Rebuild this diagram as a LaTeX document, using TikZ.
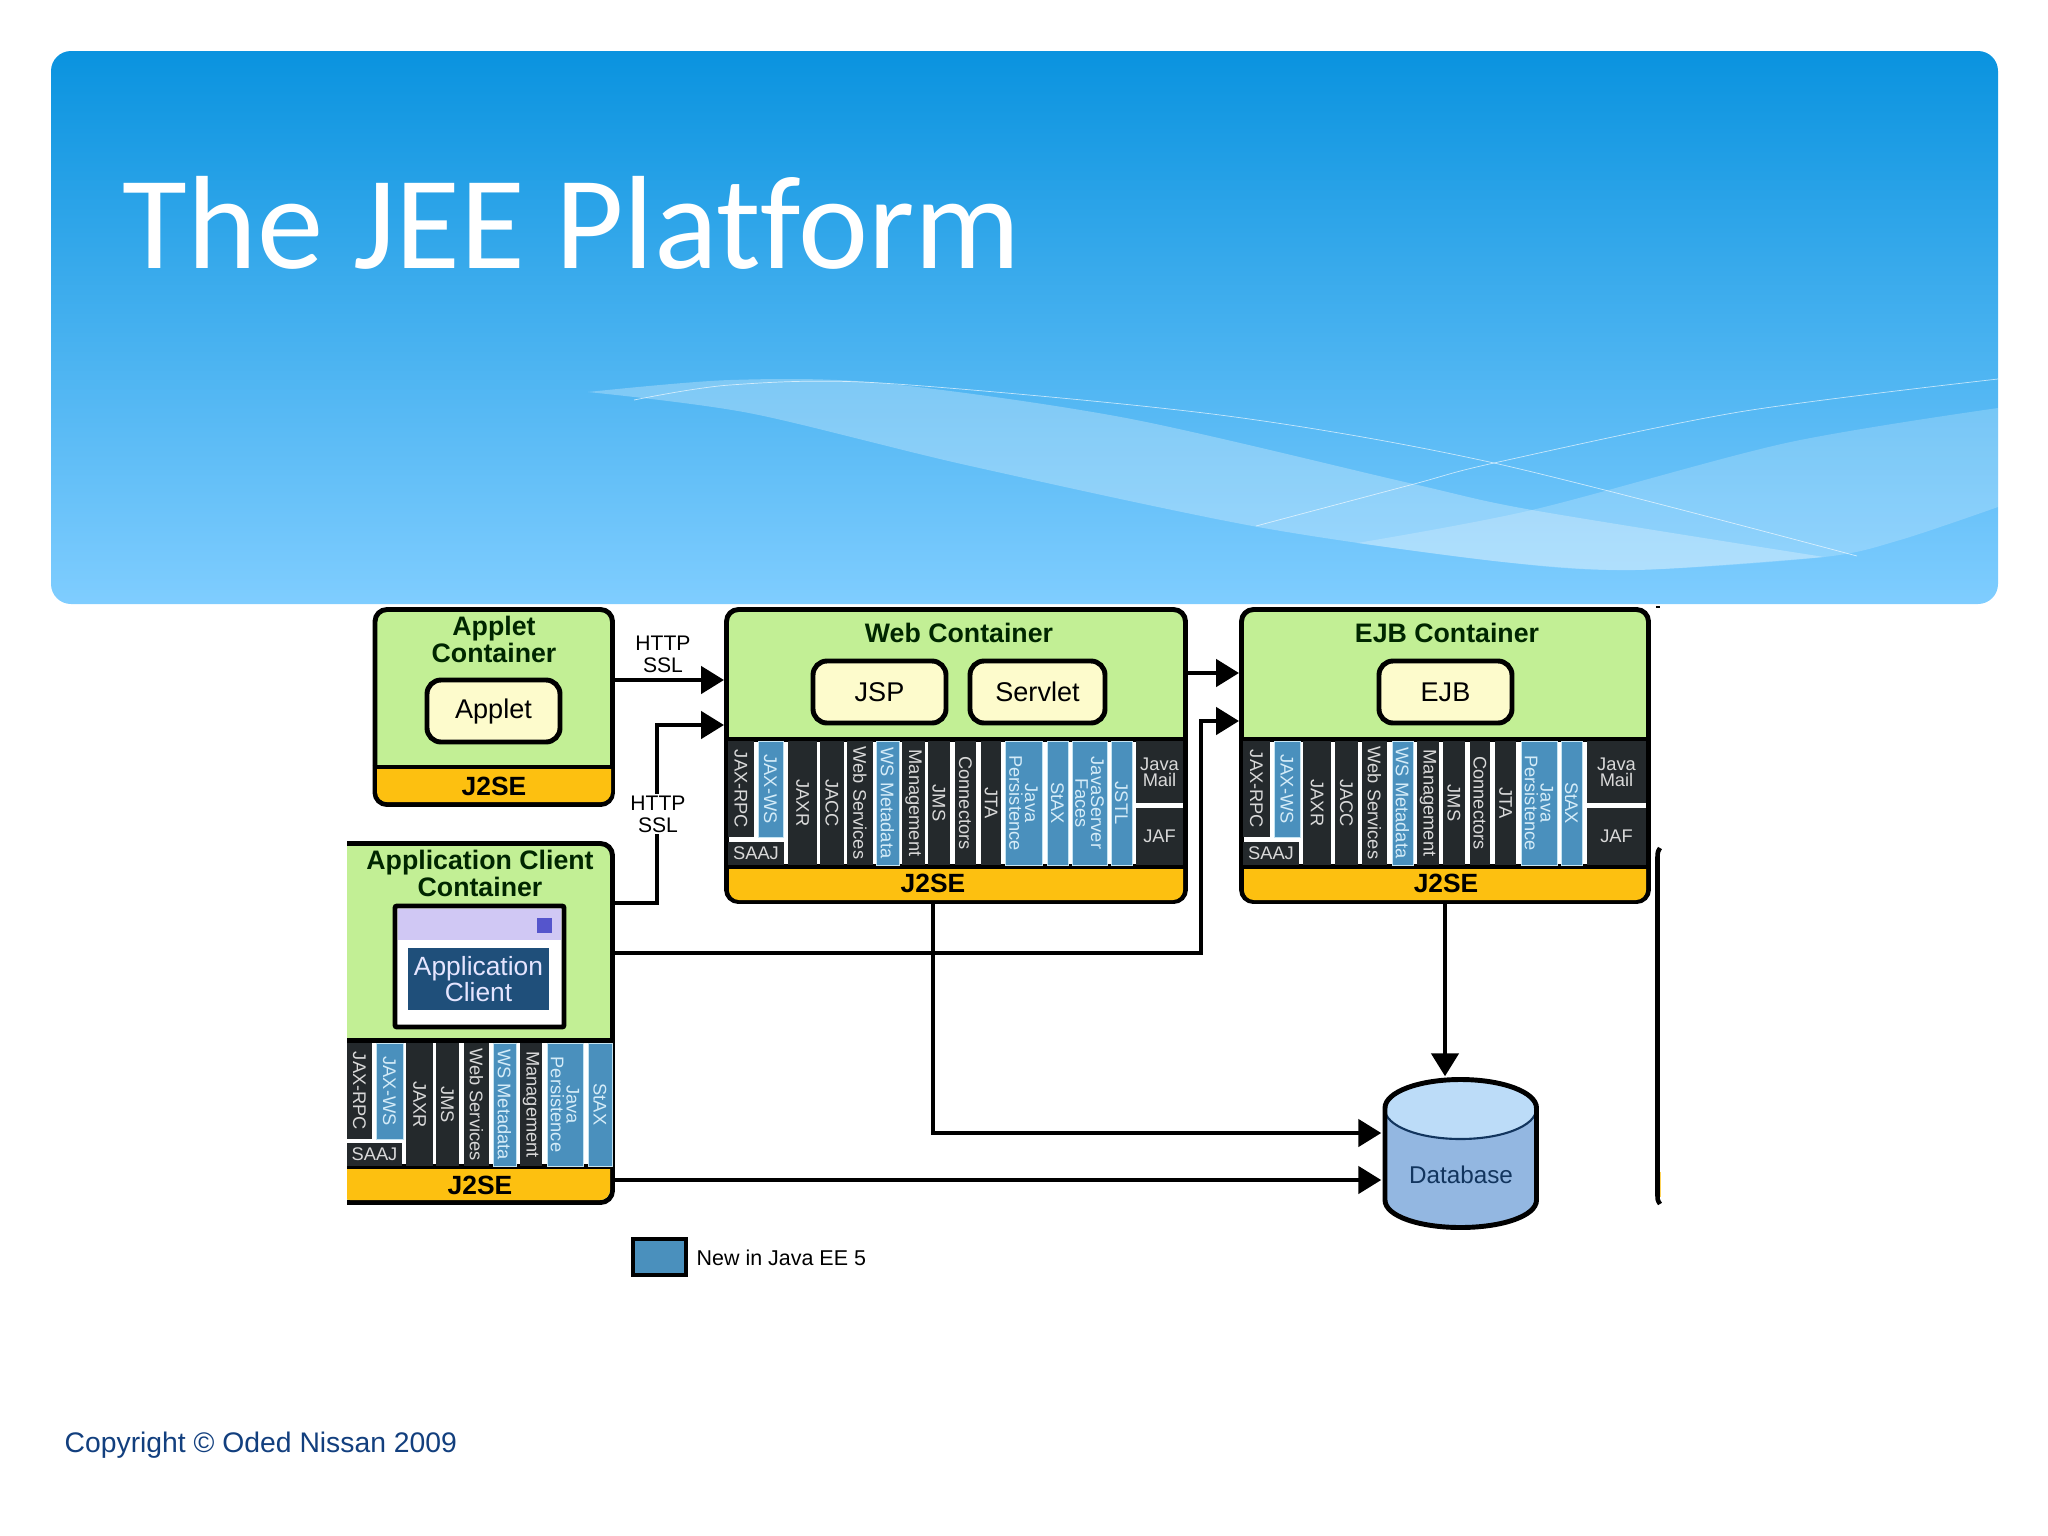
\documentclass[tikz,border=0pt]{standalone}
\usepackage{fontspec}
\setmainfont{Liberation Sans}
\newfontfamily\titlefont[Ligatures=NoCommon]{Carlito}
\usetikzlibrary{arrows.meta}
\definecolor{contgreen}{HTML}{C2EF95}
\definecolor{bandyellow}{HTML}{FDC010}
\definecolor{innercream}{HTML}{FDFBCC}
\definecolor{coldark}{HTML}{24292C}
\definecolor{colblue}{HTML}{4A90BD}
\definecolor{colline}{HTML}{C5E4F2}
\definecolor{coltextblue}{HTML}{D5ECF8}
\definecolor{barlilac}{HTML}{D0C8F4}
\definecolor{squareblue}{HTML}{5555CC}
\definecolor{clientblue}{HTML}{1F4F7A}
\definecolor{dbtop}{HTML}{BCDCF8}
\definecolor{dbbody}{HTML}{93B7E1}
\definecolor{dbtext}{HTML}{12355E}
\definecolor{copyblue}{HTML}{123F7E}
\definecolor{bannertop}{HTML}{0A93DF}
\definecolor{bannerbottom}{HTML}{7FCDFF}
\newlength\pxu
\setlength\pxu{0.01cm}
\newcommand{\boxnode}[7]{\node[#6,minimum width={(#3-#2)*\pxu},minimum height={(#5-#4)*\pxu}](#1) at ({(#2+#3)/2},{(#4+#5)/2}) {#7};}
\newcommand{\colnode}[7]{\node[#6,rotate=-90,minimum width={(#5-#4)*\pxu},minimum height={(#3-#2)*\pxu}](#1) at ({(#2+#3)/2},{(#4+#5)/2}) {#7};}
\newcommand{\bandfill}[3]{\fill[bandyellow] (#1,#3-35) -- (#2,#3-35) [rounded corners=0.1cm] -- (#2,#3) -- (#1,#3) [sharp corners] -- cycle;}
\newcommand{\dbpath}{(1385,1108) -- (1385,1200) .. controls (1385,1216) and (1419,1227.5) .. (1460.5,1227.5) .. controls (1502,1227.5) and (1536.5,1216) .. (1536.5,1200) -- (1536.5,1108) .. controls (1536.5,1092) and (1502,1079.5) .. (1460.5,1079.5) .. controls (1419,1079.5) and (1385,1092) .. (1385,1108) -- cycle}
\tikzset{
    frame/.style={line width=1.4pt,draw=black},
    container/.style={frame,fill=contgreen,rounded corners=0.12cm,inner sep=0pt},
    innerbox/.style={frame,fill=innercream,rounded corners=0.14cm,inner sep=0pt,font=\fontsize{7.7}{8}\selectfont},
    conttitle/.style={font=\bfseries\fontsize{7.6}{7.7}\selectfont,align=center,inner sep=0pt,text=black!85!green},
    bandtext/.style={font=\bfseries\fontsize{7.5}{8}\selectfont,inner sep=0pt},
    coltext/.style={inner sep=0pt,align=center,font=\fontsize{5.2}{4.5}\selectfont,text=white!85!black},
    darkcol/.style={coltext,fill=coldark},
    bluecol/.style={coltext,fill=colblue,draw=colline,line width=0.2pt,text=coltextblue},
    panelbox/.style={fill=white,inner sep=0pt},
    wire/.style={line width=1.3pt,-{Triangle[length=0.23cm,width=0.27cm]}},
    wireplain/.style={line width=1.3pt},
    protolabel/.style={font=\fontsize{6}{6.3}\selectfont,align=center,inner sep=0.02cm,fill=white},
}
\begin{document}
\begin{tikzpicture}[x=0.01cm,y=-0.01cm]
    \useasboundingbox (0,0) rectangle (2048,1536);
    \shade[top color=bannertop,bottom color=bannerbottom,rounded corners=0.2cm] (51,51) rectangle (1998,604);
    \fill[white,opacity=0.27] plot[smooth] coordinates {(588,392) (730,380) (881,383) (1126,418) (1409,483) (1532,510) (1824,557)}
        -- plot[smooth] coordinates {(1824,557) (1635,570) (1503,562) (1258,527) (966,465) (749,413) (588,392)} -- cycle;
    \fill[white,opacity=0.2] plot[smooth] coordinates {(1357,543) (1532,510) (1786,443) (1998,408)}
        -- (1998,507) -- plot[smooth] coordinates {(1998,507) (1900,540) (1824,557) (1635,570) (1503,562) (1357,543)} -- cycle;
    \draw[white,opacity=0.65,line width=0.2pt] plot[smooth] coordinates {(634,400) (730,385) (881,383) (1220,415) (1494,463) (1857,556)};
    \draw[white,opacity=0.65,line width=0.2pt] plot[smooth] coordinates {(1256,526) (1414,484) (1494,463) (1739,412) (1998,379)};
    \node[anchor=base west,inner sep=0pt,text=white,font=\titlefont\fontsize{37.75}{40}\selectfont](title) at (122,268) {The JEE Platform};

    \boxnode{appletbox}{375}{612.5}{609.5}{804.5}{container}{}
    \bandfill{377}{611}{802}
    \draw[frame] (appletbox.west |- 0,767) -- (appletbox.east |- 0,767);
    \node[conttitle](applettitle) at (494,639) {Applet\\Container};
    \boxnode{applet}{427}{560}{680}{742}{innerbox}{Applet}
    \node[bandtext](appletjse) at (494,786) {J2SE};

    \boxnode{webbox}{726.5}{1185.5}{609.5}{901.5}{container}{}
    \boxnode{webpanel}{729}{1183}{740}{866}{panelbox}{}
    \bandfill{729}{1183}{900}
    \draw[frame] (webpanel.north west) -- (webpanel.north east);
    \draw[frame] (webpanel.south west) -- (webpanel.south east);
    \node[conttitle](webtitle) at (959,633) {Web Container};
    \boxnode{jsp}{813}{946}{661}{723}{innerbox}{JSP}
    \boxnode{servlet}{970}{1105}{661}{723}{innerbox}{Servlet}
    \colnode{webrpc}{728}{754}{741}{837}{darkcol}{JAX-RPC}
    \colnode{webws}{758}{783}{741}{837}{bluecol}{JAX-WS}
    \boxnode{websaaj}{728}{784}{842}{865}{darkcol}{SAAJ}
    \colnode{webxr}{788}{817}{741}{865}{darkcol}{JAXR}
    \colnode{webacc}{820}{844}{741}{865}{darkcol}{JACC}
    \colnode{webserv}{847}{873}{741}{865}{darkcol}{Web Services}
    \colnode{webmeta}{876}{899}{741}{865}{bluecol}{WS Metadata}
    \colnode{webmgmt}{902}{925}{741}{865}{darkcol}{Management}
    \colnode{webjms}{928}{950}{741}{865}{darkcol}{JMS}
    \colnode{webconn}{955}{976}{741}{865}{darkcol}{Connectors}
    \colnode{webjta}{981}{1001}{741}{865}{darkcol}{JTA}
    \colnode{webjpa}{1005}{1042}{741}{865}{bluecol}{Java\\Persistence}
    \colnode{webstax}{1047}{1068}{741}{865}{bluecol}{StAX}
    \colnode{webjsf}{1072}{1107}{741}{865}{bluecol}{JavaServer\\Faces}
    \colnode{webjstl}{1111}{1132}{741}{865}{bluecol}{JSTL}
    \boxnode{webmail}{1136}{1183}{741}{803}{darkcol}{Java\\Mail}
    \boxnode{webjaf}{1136}{1183}{808}{865}{darkcol}{JAF}
    \node[bandtext](webjse) at (933,883) {J2SE};

    \boxnode{ejbbox}{1241.5}{1648.5}{609.5}{901.5}{container}{}
    \boxnode{ejbpanel}{1244}{1646}{740}{866}{panelbox}{}
    \bandfill{1244}{1646}{900}
    \draw[frame] (ejbpanel.north west) -- (ejbpanel.north east);
    \draw[frame] (ejbpanel.south west) -- (ejbpanel.south east);
    \node[conttitle](ejbtitle) at (1447,633) {EJB Container};
    \boxnode{ejb}{1379}{1512}{661}{723}{innerbox}{EJB}
    \colnode{ejbrpc}{1243}{1270}{741}{837}{darkcol}{JAX-RPC}
    \colnode{ejbws}{1274}{1300}{741}{837}{bluecol}{JAX-WS}
    \boxnode{ejbsaaj}{1243}{1299}{842}{865}{darkcol}{SAAJ}
    \colnode{ejbxr}{1303}{1331}{741}{865}{darkcol}{JAXR}
    \colnode{ejbacc}{1335}{1358}{741}{865}{darkcol}{JACC}
    \colnode{ejbserv}{1362}{1387}{741}{865}{darkcol}{Web Services}
    \colnode{ejbmeta}{1392}{1413}{741}{865}{bluecol}{WS Metadata}
    \colnode{ejbmgmt}{1417}{1439}{741}{865}{darkcol}{Management}
    \colnode{ejbjms}{1443}{1465}{741}{865}{darkcol}{JMS}
    \colnode{ejbconn}{1470}{1490}{741}{865}{darkcol}{Connectors}
    \colnode{ejbjta}{1495}{1516}{741}{865}{darkcol}{JTA}
    \colnode{ejbjpa}{1521}{1557}{741}{865}{bluecol}{Java\\Persistence}
    \colnode{ejbstax}{1561}{1582}{741}{865}{bluecol}{StAX}
    \boxnode{ejbmail}{1587}{1646}{741}{803}{darkcol}{Java\\Mail}
    \boxnode{ejbjaf}{1587}{1646}{808}{865}{darkcol}{JAF}
    \node[bandtext](ejbjse) at (1446,883) {J2SE};

    \begin{scope}
        \clip (347,820) rectangle (640,1220);
        \boxnode{appbox}{330}{612.5}{843.5}{1202.5}{container}{}
        \boxnode{apppanel}{340}{610}{1041}{1166}{panelbox}{}
        \bandfill{340}{610}{1200}
        \draw[frame] (apppanel.north west) -- (apppanel.north east);
        \draw[frame] (apppanel.south west) -- (apppanel.south east);
    \end{scope}
    \node[conttitle](apptitle) at (480,873) {Application Client\\Container};
    \boxnode{appwindow}{395}{564}{906}{1027}{frame,fill=white,rounded corners=0.02cm,inner sep=0pt}{}
    \boxnode{appbar}{398}{561}{909}{940}{fill=barlilac,inner sep=0pt}{}
    \boxnode{appsquare}{537}{552}{918}{933}{fill=squareblue,inner sep=0pt}{}
    \boxnode{appclient}{408}{549}{948}{1010}{fill=clientblue,inner sep=0pt,align=center,text=white!90!blue,font=\fontsize{7.5}{7.6}\selectfont}{Application\\Client}
    \colnode{apprpc}{347}{372}{1043}{1139}{darkcol}{JAX-RPC}
    \colnode{appws}{376}{403}{1043}{1139}{bluecol}{JAX-WS}
    \boxnode{appsaaj}{347}{402}{1143}{1166}{darkcol}{SAAJ}
    \colnode{appxr}{406}{433}{1043}{1166}{darkcol}{JAXR}
    \colnode{appjms}{436}{459}{1043}{1166}{darkcol}{JMS}
    \colnode{appserv}{464}{489}{1043}{1166}{darkcol}{Web Services}
    \colnode{appmeta}{493}{516}{1043}{1166}{bluecol}{WS Metadata}
    \colnode{appmgmt}{520}{542}{1043}{1166}{darkcol}{Management}
    \colnode{appjpa}{547}{583}{1043}{1166}{bluecol}{Java\\Persistence}
    \colnode{appstax}{588}{612}{1043}{1166}{bluecol}{StAX}
    \node[bandtext](appjse) at (480,1185) {J2SE};

    \boxnode{dbcyl}{1382}{1539}{1077}{1230}{inner sep=0pt}{}
    \fill[dbbody] \dbpath;
    \draw[draw=dbtext,fill=dbtop,line width=0.6pt] (1460.5,1109.5) ellipse [x radius=75.5,y radius=29.5];
    \draw[frame] \dbpath;
    \node[text=dbtext,inner sep=0pt,font=\fontsize{6.9}{7}\selectfont](dblabel) at (1461,1175) {Database};

    \coordinate(sslbend) at (657,725);
    \coordinate(ejbbend) at (1201,721);
    \draw[wire] (appletbox.east |- 0,680) -- (webbox.west |- 0,680);
    \draw[wire] (appbox.east |- 0,903) -| (sslbend) -- (webbox.west |- sslbend);
    \draw[wire] (webbox.east |- 0,673) -- (ejbbox.west |- 0,673);
    \draw[wire] (appbox.east |- 0,953) -| (ejbbend) -- (ejbbox.west |- ejbbend);
    \draw[wire] (webjse |- webbox.south) |- (dbcyl.west |- 0,1133);
    \draw[wire] (ejbbox.south) -- (ejbbox.south |- dbcyl.north);
    \draw[wire] (appbox.east |- 0,1180) -- (dbcyl.west |- 0,1180);
    \node[protolabel](httpa) at (663,654) {HTTP\\SSL};
    \node[protolabel](httpb) at (658,814) {HTTP\\SSL};

    \draw[wireplain] (1660,848) .. controls (1657.5,852) .. (1657.5,860) -- (1657.5,1195) .. controls (1657.5,1200) .. (1660,1204);
    \fill[bandyellow!70!white] (1659.5,1172) rectangle (1661,1197);
    \draw[line width=0.5pt] (1656,607) -- (1660,607);

    \boxnode{legendbox}{633}{686}{1239}{1275}{frame,fill=colblue,inner sep=0pt}{}
    \node[anchor=west,inner sep=0pt,font=\fontsize{6.1}{7}\selectfont](legendtext) at (696,1258) {New in Java EE 5};
    \node[anchor=base west,inner sep=0pt,text=copyblue,font=\fontsize{8.05}{9}\selectfont](copyright) at (64,1452) {Copyright © Oded Nissan 2009};
\end{tikzpicture}
\end{document}
